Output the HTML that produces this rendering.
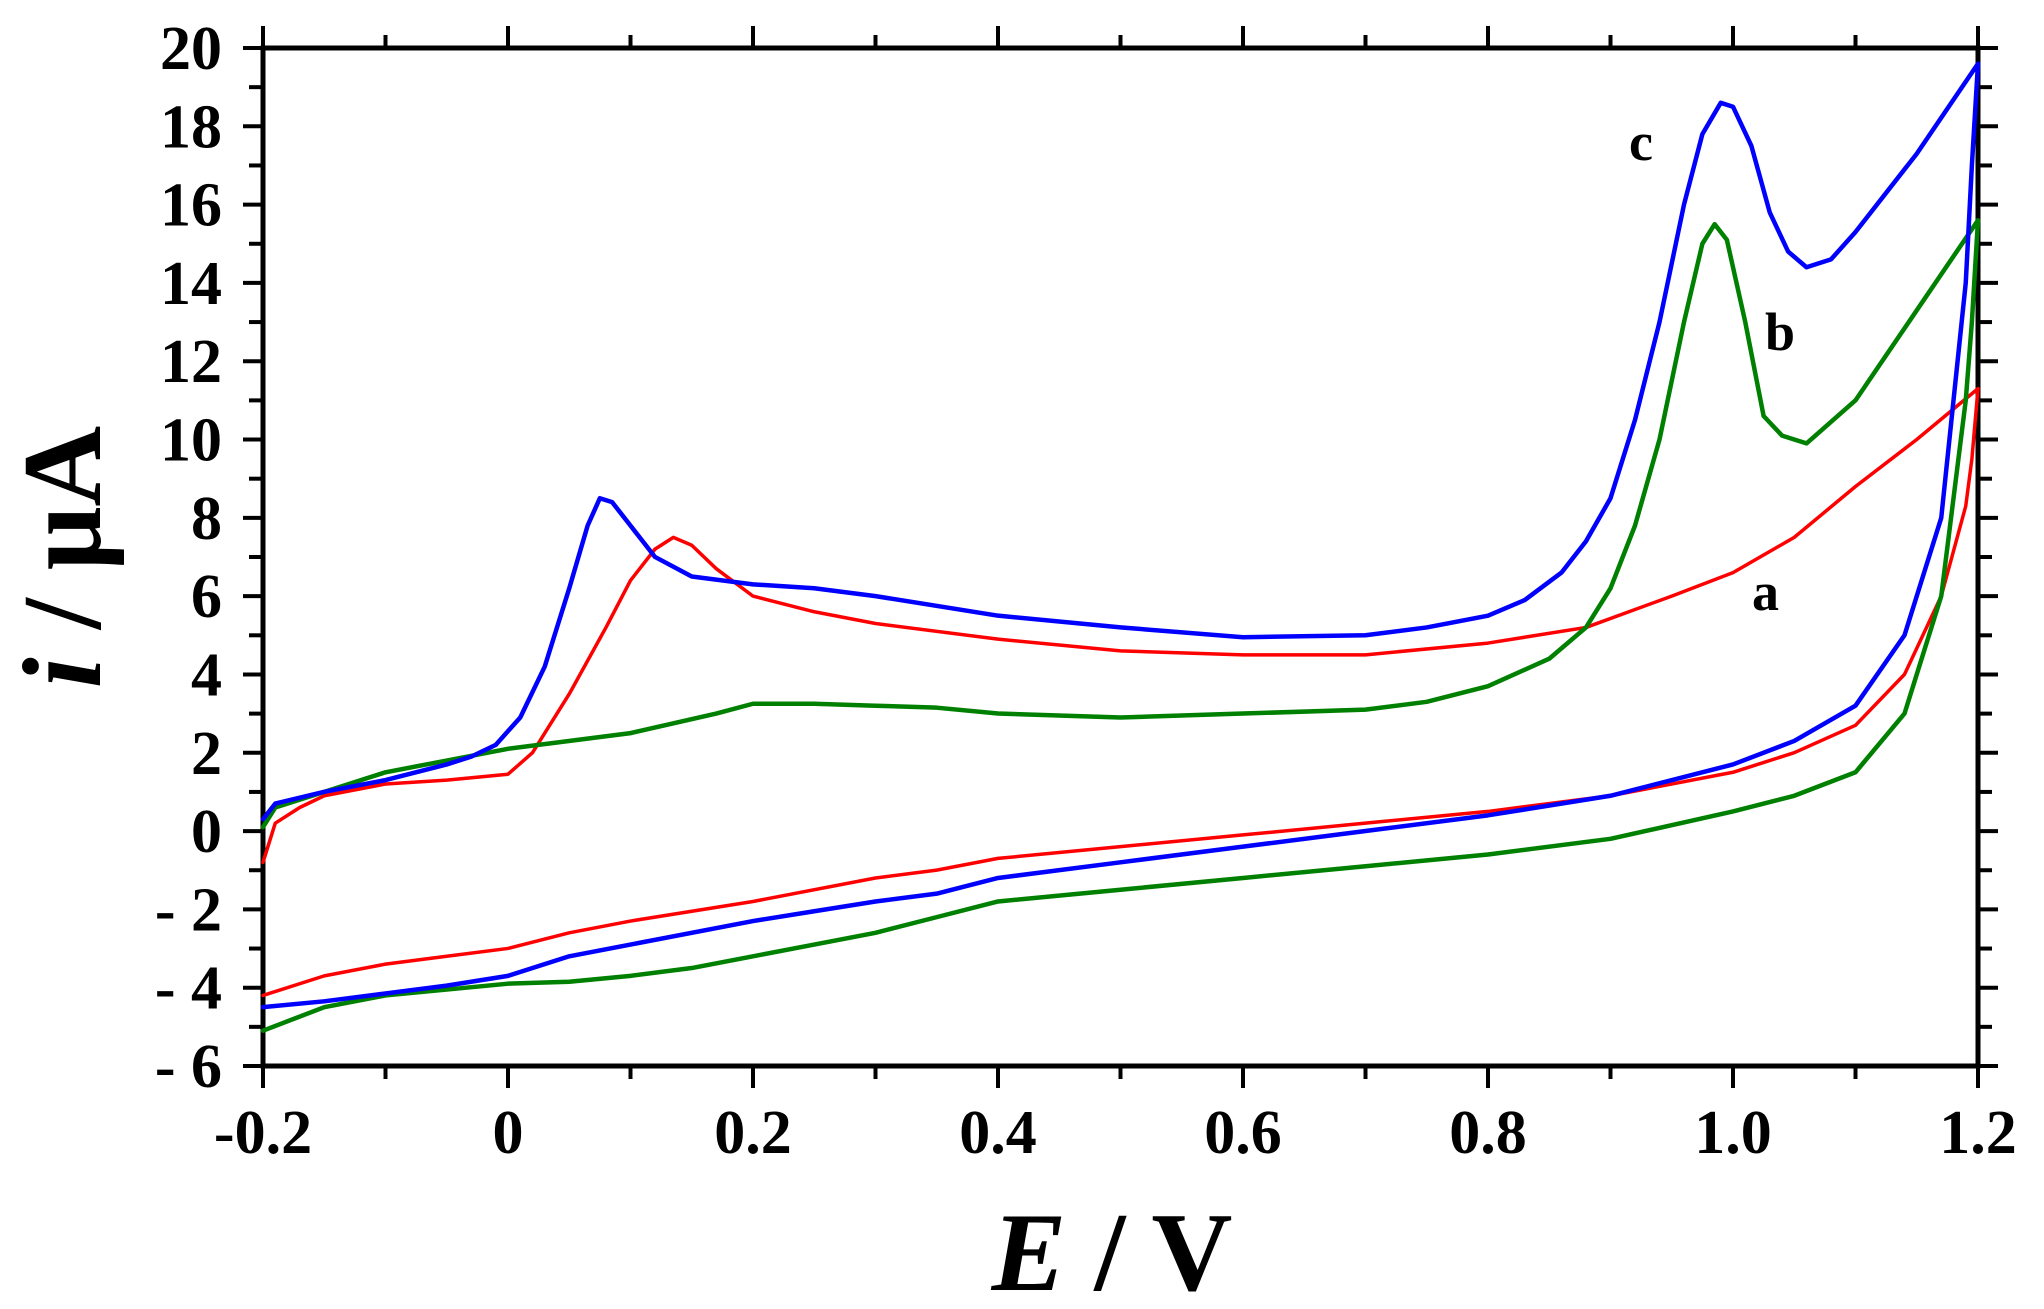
<!DOCTYPE html>
<html><head><meta charset="utf-8"><style>
html,body{margin:0;padding:0;background:#fff;}
svg{display:block;}
text{font-family:"Liberation Serif","Times New Roman",Times,serif;font-weight:bold;fill:#000;}
</style></head><body>
<svg id="s" width="2044" height="1309" viewBox="0 0 2044 1309" xmlns="http://www.w3.org/2000/svg">
<g id="ticks" stroke="#000" stroke-width="4"></g>
<rect x="263" y="48" width="1715" height="1018" fill="none" stroke="#000" stroke-width="5"/>
<g id="labels" font-size="62"></g>
<g transform="matrix(1225 0 0 -39.15 508 831)" fill="none" stroke-linejoin="round" stroke-linecap="round">
<polyline vector-effect="non-scaling-stroke" stroke="#ff0000" stroke-width="3.5" points="-0.2,-0.8 -0.19,0.2 -0.17,0.6 -0.15,0.9 -0.1,1.2 -0.05,1.3 0,1.45 0.02,2.0 0.05,3.5 0.08,5.2 0.1,6.4 0.12,7.2 0.135,7.5 0.15,7.3 0.17,6.7 0.2,6.0 0.25,5.6 0.3,5.3 0.4,4.9 0.5,4.6 0.6,4.5 0.7,4.5 0.8,4.8 0.88,5.2 0.95,6.0 1.0,6.6 1.05,7.5 1.1,8.8 1.15,10 1.2,11.3 1.195,9.5 1.19,8.3 1.17,6 1.14,4 1.1,2.7 1.05,2.0 1.0,1.5 0.9,0.9 0.8,0.5 0.7,0.2 0.6,-0.1 0.5,-0.4 0.4,-0.7 0.35,-1.0 0.3,-1.2 0.2,-1.8 0.1,-2.3 0.05,-2.6 0.0,-3.0 -0.05,-3.2 -0.1,-3.4 -0.15,-3.7 -0.2,-4.2"/>
<polyline vector-effect="non-scaling-stroke" stroke="#008000" stroke-width="4.5" points="-0.2,0.1 -0.19,0.6 -0.15,1.0 -0.1,1.5 -0.05,1.8 0,2.1 0.1,2.5 0.17,3.0 0.2,3.25 0.25,3.25 0.3,3.2 0.35,3.15 0.4,3.0 0.5,2.9 0.6,3.0 0.7,3.1 0.75,3.3 0.8,3.7 0.85,4.4 0.88,5.2 0.9,6.2 0.92,7.8 0.94,10 0.96,13 0.975,15 0.985,15.5 0.995,15.1 1.01,13 1.025,10.6 1.04,10.1 1.06,9.9 1.1,11 1.15,13.3 1.2,15.6 1.195,13 1.19,11 1.17,6 1.14,3 1.1,1.5 1.05,0.9 1.0,0.5 0.9,-0.2 0.8,-0.6 0.7,-0.9 0.6,-1.2 0.5,-1.5 0.4,-1.8 0.35,-2.2 0.3,-2.6 0.25,-2.9 0.2,-3.2 0.15,-3.5 0.1,-3.7 0.05,-3.85 0.0,-3.9 -0.1,-4.2 -0.15,-4.5 -0.2,-5.1"/>
<polyline vector-effect="non-scaling-stroke" stroke="#0000ff" stroke-width="4.5" points="-0.2,0.3 -0.19,0.7 -0.15,1.0 -0.1,1.3 -0.05,1.7 -0.03,1.9 -0.01,2.2 0.01,2.9 0.03,4.2 0.05,6.2 0.065,7.8 0.075,8.5 0.085,8.4 0.1,7.8 0.12,7.0 0.15,6.5 0.2,6.3 0.25,6.2 0.3,6.0 0.4,5.5 0.5,5.2 0.6,4.95 0.7,5.0 0.75,5.2 0.8,5.5 0.83,5.9 0.86,6.6 0.88,7.4 0.9,8.5 0.92,10.5 0.94,13 0.96,16 0.975,17.8 0.99,18.6 1.0,18.5 1.015,17.5 1.03,15.8 1.045,14.8 1.06,14.4 1.08,14.6 1.1,15.3 1.15,17.3 1.2,19.6 1.195,17 1.19,14 1.17,8 1.14,5 1.1,3.2 1.05,2.3 1.0,1.7 0.9,0.9 0.8,0.4 0.7,0.0 0.6,-0.4 0.5,-0.8 0.4,-1.2 0.35,-1.6 0.3,-1.8 0.25,-2.05 0.2,-2.3 0.1,-2.9 0.05,-3.2 0.0,-3.7 -0.05,-3.95 -0.1,-4.15 -0.15,-4.35 -0.2,-4.5"/>
</g>
<text x="1629" y="160" font-size="54">c</text>
<text x="1765" y="350" font-size="54">b</text>
<text x="1752" y="610" font-size="54">a</text>
<text x="1112" y="1290" font-size="112" text-anchor="middle"><tspan font-style="italic">E</tspan> / V</text>
<text transform="translate(100,557) rotate(-90)" font-size="112" text-anchor="middle"><tspan font-style="italic">i</tspan> / μA</text>
</svg>
<script>
var ns="http://www.w3.org/2000/svg",T=document.getElementById("ticks"),L=document.getElementById("labels");
function ln(x1,y1,x2,y2,w){var l=document.createElementNS(ns,"line");l.setAttribute("x1",x1);l.setAttribute("y1",y1);l.setAttribute("x2",x2);l.setAttribute("y2",y2);if(w)l.setAttribute("stroke-width",w);T.appendChild(l);}
function tx(x,y,s,a){var t=document.createElementNS(ns,"text");t.setAttribute("x",x);t.setAttribute("y",y);t.setAttribute("text-anchor",a);t.textContent=s;L.appendChild(t);}
for(var k=0;k<=14;k++){var x=263+k*1715/14,maj=k%2==0;
 ln(x,1066,x,1066+(maj?22:13));ln(x,48,x,48-(maj?22:13));
 if(maj){var v=(-0.2+k*0.1);var s=Math.abs(v)<1e-9?"0":(k==12?"1.0":v.toFixed(1));tx(x,1153,s,"middle");}}
for(var i=-6;i<=20;i++){var y=48+(20-i)*1018/26,maj=i%2==0;
 ln(263,y,263-(maj?20:14),y);ln(1978,y,1978+(maj?20:14),y);
 if(maj){tx(222,y+21,i<0?"- "+(-i):""+i,"end");}}
</script>
</body></html>
